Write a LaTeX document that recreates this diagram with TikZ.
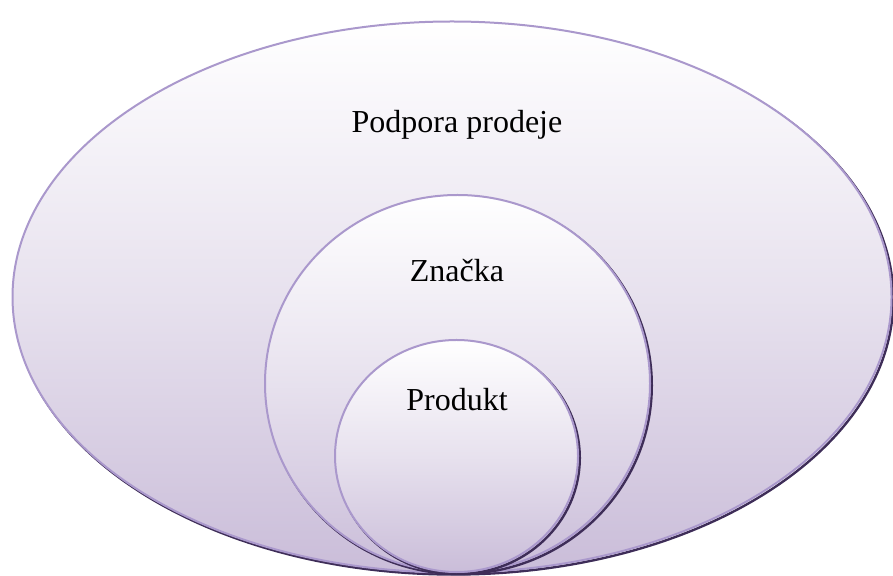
\documentclass[tikz,border=0pt]{standalone}
\usepackage{fontspec}
\setmainfont{Liberation Serif}
\usetikzlibrary{shapes.geometric}
\definecolor{lavbot}{RGB}{202,189,217}
\definecolor{edgec}{RGB}{170,152,204}
\definecolor{shadowc}{RGB}{62,45,88}
\tikzset{
  blob/.style={ellipse, inner sep=0pt, outer sep=0pt, draw=edgec, line width=2pt,
    top color=white, bottom color=lavbot, middle color=lavbot!45!white},
  blobshadow/.style={draw=shadowc, line width=2.4pt},
  lbl/.style={font=\fontsize{32}{38}\selectfont, anchor=base, inner sep=0pt}
}
\begin{document}
\begin{tikzpicture}[x=1pt,y=1pt]
\useasboundingbox (0,0) rectangle (893,575);
% outer
\draw[blobshadow] (453.8,276) ellipse [x radius=439.5, y radius=275.5];
\node[blob, minimum width=879pt, minimum height=551pt] (outer) at (452,278) {};
% middle
\draw[blobshadow] (459.3,189.5) ellipse [x radius=192.5, y radius=188.5];
\node[blob, minimum width=385pt, minimum height=377pt] (middle) at (457.5,191.5) {};
% inner
\draw[blobshadow] (458.3,117) ellipse [x radius=121.5, y radius=116];
\node[blob, minimum width=243pt, minimum height=232pt] (inner) at (456.5,119) {};
% labels
\node[lbl] (t1) at (457,442) {Podpora prodeje};
\node[lbl] (t2) at (457,293) {Značka};
\node[lbl] (t3) at (457,164) {Produkt};
\end{tikzpicture}
\end{document}
